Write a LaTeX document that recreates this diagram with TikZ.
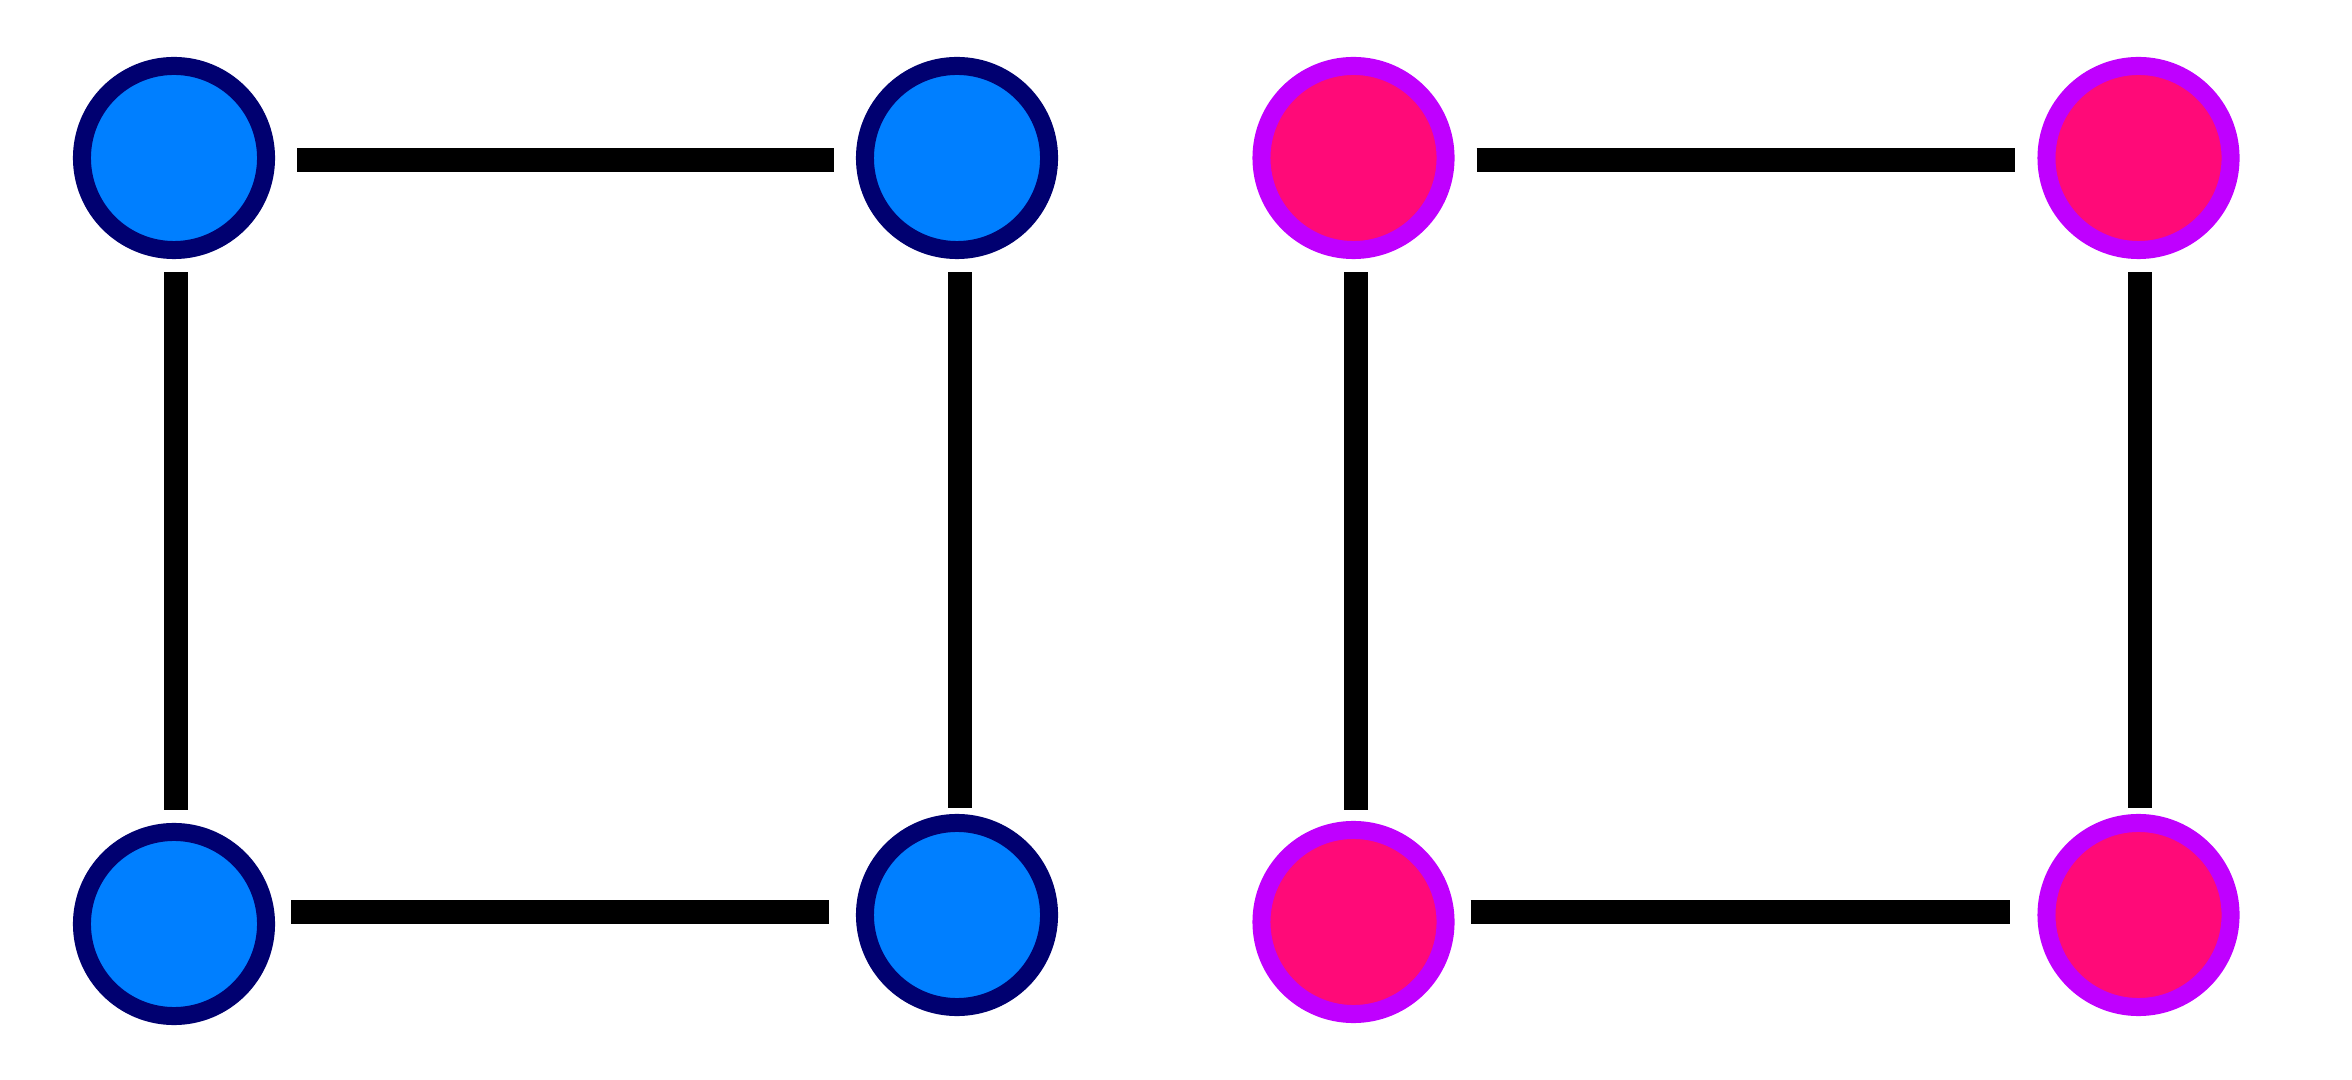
\documentclass[tikz,border=0pt]{standalone}
\begin{document}
\begin{tikzpicture}[x=0.01cm,y=-0.01cm,
  bluenode/.style={circle,draw=navyc,fill=bluec,line width=0.18cm,minimum size=1.84cm,inner sep=0pt},
  pinknode/.style={circle,draw=purplec,fill=pinkc,line width=0.18cm,minimum size=1.84cm,inner sep=0pt},
  edge/.style={line width=0.24cm,black}]
\definecolor{navyc}{RGB}{0,0,112}
\definecolor{bluec}{RGB}{0,127,255}
\definecolor{purplec}{RGB}{191,0,255}
\definecolor{pinkc}{RGB}{255,10,120}
\useasboundingbox (0,0) rectangle (2352,1080);
\node[bluenode] (b1) at (174,158) {};
\node[bluenode] (b2) at (957,158) {};
\node[bluenode] (b3) at (174,924) {};
\node[bluenode] (b4) at (957,915) {};
\node[pinknode] (p1) at (1353.5,158) {};
\node[pinknode] (p2) at (2138.5,158) {};
\node[pinknode] (p3) at (1353.5,922) {};
\node[pinknode] (p4) at (2138.5,915) {};
% blue square
\draw[edge] ([xshift=0.22cm,yshift=-0.02cm]b1.east) -- ([xshift=-0.22cm,yshift=-0.02cm]b2.west);
\draw[edge] ([xshift=0.02cm,yshift=-0.13cm]b1.south) -- ([xshift=0.02cm,yshift=0.13cm]b3.north);
\draw[edge] ([xshift=0.03cm,yshift=-0.13cm]b2.south) -- ([xshift=0.03cm,yshift=0.06cm]b4.north);
\draw[edge] ([xshift=0.16cm]b3.east |- 0,912) -- ([xshift=-0.27cm]b4.west |- 0,912);
% pink square
\draw[edge] ([xshift=0.22cm,yshift=-0.02cm]p1.east) -- ([xshift=-0.22cm,yshift=-0.02cm]p2.west);
\draw[edge] ([xshift=0.025cm,yshift=-0.13cm]p1.south) -- ([xshift=0.025cm,yshift=0.11cm]p3.north);
\draw[edge] ([xshift=0.01cm,yshift=-0.13cm]p2.south) -- ([xshift=0.01cm,yshift=0.06cm]p4.north);
\draw[edge] ([xshift=0.16cm]p3.east |- 0,912) -- ([xshift=-0.27cm]p4.west |- 0,912);
\end{tikzpicture}
\end{document}
